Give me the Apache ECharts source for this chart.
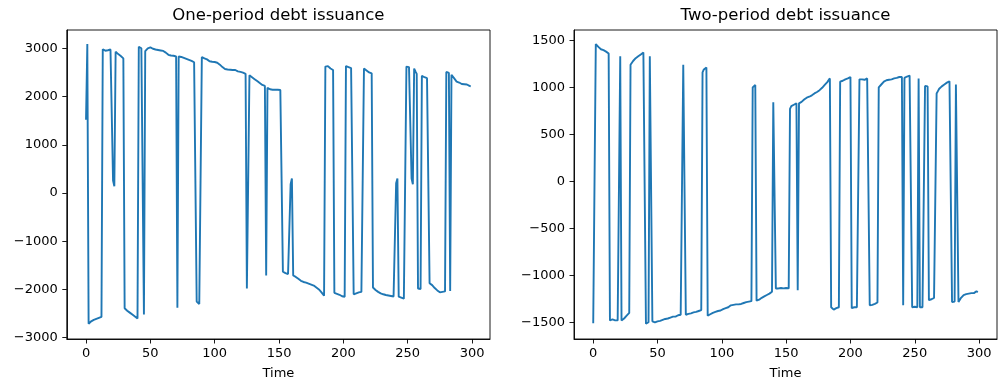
<!DOCTYPE html>
<html><head><meta charset="utf-8">
<script src="https://cdn.jsdelivr.net/npm/echarts@6/dist/echarts.min.js"></script>
<style>html,body{margin:0;padding:0;background:#fff}#c{width:1006px;height:391px}</style>
</head><body><div id="c"></div>
<script>
const titles = ['One-period debt issuance', 'Two-period debt issuance'];
const xLabel = 'Time';
const xTicks = [0, 50, 100, 150, 200, 250, 300];
const yTicksLeft = [-3000, -2000, -1000, 0, 1000, 2000, 3000];
const yTicksRight = [-1500, -1000, -500, 0, 500, 1000, 1500];

const oneperiod = [
1520, 3090, -2710,
-2690,-2660,-2640,-2630,-2620,-2610,-2600,-2590,-2580,-2570,
2980,2960,2950,2950,2960,2980,2975,2980,
260,140,
2930,2900,2880,2860,2840,2810,2790,
-2390,-2420,-2440,-2460,-2480,-2500,-2520,-2540,-2560,-2580,-2600,
3030,3010,3000,2970,
-2520,
2940,2980,3000,3010,3020,3010,
2990,2980,2975,2970,2965,2960,2955,2950,2945,2930,2910,2890,2865,2855,2850,2850,2845,2845,2830,
-2380,
2830,2825,2820,2810,2800,2790,2780,2770,2760,2750,2740,2720,2710,2700,
-2250,-2290,-2300,-2310,
2820,2800,2790,2780,2770,2750,2730,2720,
2720,2720,2715,2710,2700,2690,
2660,2640,2610,2590,2570,2560,
2560,2555,2555,2550,2550,2555,2550,2540,
2520,2515,2510,2500,2495,2480,
2470,
-1980,-2000,
2440,2420,2400,2380,2360,2340,2320,2300,2280,2260,2240,2230,2220,
-1710,
2180,2160,2150,2145,2140,2140,2140,2135,2140,2140,2135,2130,
-1630,-1650,-1660,-1670,-1680,-1690,
180,300,
-1710,-1730,-1740,-1760,-1780,-1800,-1820,-1840,-1845,-1850,-1860,-1870,-1880,-1890,-1900,-1910,-1920,-1940,-1960,-1980,-2000,-2030,-2060,-2100,-2130,
2620,2640,2630,2600,2580,2560,2550,
-2070,-2080,-2090,-2100,-2110,-2120,-2140,-2150,-2150,
2630,2620,2610,2600,2590,2570,
-2100,-2090,-2080,-2070,-2060,-2045,-2050,-2090,
2580,2560,2540,2520,2500,2490,2480,
-1960,-1990,-2010,-2030,-2050,-2070,-2080,-2090,-2100,-2110,-2115,-2120,-2125,-2130,-2135,-2140,-2145,-2150,
200,300,
-2150,-2160,-2170,-2180,-2190,-2185,
2620,2615,2610,2610,
300,180,
2580,2520,2470,
-1980,-1990,-1990,
2430,2410,2400,2390,2380,2375,
-1870,-1880,-1910,-1940,-1970,-2000,-2020,-2040,-2060,-2065,-2050,-2045,-2040,
2510,2505,2490,
-2030,
2450,2420,2380,2340,2310,2300,2290,2270,2260,2255,2255,2250,2250,2240,2220,2210
];

const twoperiod = [
-1510,-1530,
1460,1440,1430,1415,1405,1400,1395,1390,1380,1370,1360,
-1480,-1470,-1470,-1475,-1480,-1490,-1480,-1485,
1330,
-1480,-1470,-1460,-1450,-1430,-1410,-1400,
1240,1260,1280,1295,1310,1320,1330,1340,1350,1360,1370,1380,
-1515,-1520,-1500,
1330,1320,
-1490,-1510,-1500,-1495,-1490,-1480,-1485,-1470,-1475,-1470,-1465,-1460,-1460,-1455,-1450,-1450,-1440,-1445,-1440,-1430,-1425,-1420,-1420,-1410,
1240,1235,
-1420,-1415,-1410,-1410,-1405,-1400,-1395,-1395,-1390,-1385,-1380,-1375,-1370,
1160,1190,1200,1210,
-1430,-1420,-1415,-1410,-1400,-1395,-1390,-1385,-1380,-1385,-1375,-1370,-1360,-1355,-1350,-1345,-1340,-1335,-1320,-1325,-1315,-1320,-1310,-1305,-1310,-1300,-1305,-1300,-1295,-1290,-1285,-1290,-1280,-1278,-1275,
1000,1010,1025,
-1270,-1265,-1260,-1250,-1240,-1235,-1225,-1215,-1210,-1200,-1195,-1185,-1175,
840,850,
-1140,-1135,-1140,-1140,-1135,-1140,-1140,-1140,-1135,-1140,-1140,
770,800,810,815,820,830,
-1160,
830,840,845,860,870,880,890,900,900,905,915,930,935,945,950,960,970,985,995,1010,1025,1040,1055,1075,1095,
-1340,-1350,-1365,-1360,-1350,-1345,-1340,
1060,1070,1070,1075,1085,1090,1095,1100,1110,
-1350,-1345,-1340,-1335,-1340,-1335,
1085,1090,1085,1080,1080,1075,1095,1100,
-1320,-1320,-1315,-1310,-1305,-1300,-1290,
1000,1020,1030,1045,1060,1065,1075,1080,1080,1085,1085,1090,1095,1100,1100,1105,1110,1115,1110,
-1320,
1100,1110,1115,1120,1125,1130,
-1340,-1340,-1335,-1340,-1340,
1095,
-1340,-1335,-1340,-1330,
1015,1015,1010,
-1265,-1260,-1255,-1245,-1240,-1230,
935,960,985,1000,1010,1020,1030,1040,1050,1060,1065,1055,
-1285,-1290,-1280,
1030,1025,
-1285,-1270,-1240,-1220,-1210,-1205,-1200,-1195,-1195,-1190,-1190,-1200,-1190,-1180,-1170,-1180
];

const FONT = 'DejaVu Sans';
const chart = echarts.init(document.getElementById('c'), null, {renderer: 'canvas'});

function xAxisCfg(idx) {
  return {
    gridIndex: idx, type: 'value', min: -14.95, max: 313.95,
    name: xLabel, nameLocation: 'middle', nameGap: 28,
    nameTextStyle: {color: '#000', fontSize: 13, fontFamily: FONT},
    axisLine: {show: true, onZero: false, lineStyle: {color: '#000', width: 0.9}},
    axisTick: {show: true, length: 4.5, customValues: xTicks, lineStyle: {color: '#000', width: 0.9}},
    axisLabel: {show: true, margin: 8, customValues: xTicks, color: '#000', fontSize: 13, fontFamily: FONT},
    splitLine: {show: false}
  };
}
function yAxisCfg(idx, min, max, ticks) {
  return {
    gridIndex: idx, type: 'value', min: min, max: max,
    axisLine: {show: true, onZero: false, lineStyle: {color: '#000', width: 0.9}},
    axisTick: {show: true, length: 4.5, customValues: ticks, lineStyle: {color: '#000', width: 0.9}},
    axisLabel: {show: true, margin: 9, customValues: ticks, color: '#000', fontSize: 13, fontFamily: FONT,
      formatter: v => (v < 0 ? '\u2212' + Math.abs(v) : String(v))},
    splitLine: {show: false}
  };
}
const toPairs = arr => arr.map((v, i) => [i, v]);

const option = {
  animation: false,
  backgroundColor: '#fff',
  title: [
    {text: titles[0], left: 278.4, top: 7, textAlign: 'center', padding: 0,
     textStyle: {fontSize: 16.5, fontWeight: 'normal', color: '#000', fontFamily: FONT}},
    {text: titles[1], left: 785.5, top: 7, textAlign: 'center', padding: 0,
     textStyle: {fontSize: 16.5, fontWeight: 'normal', color: '#000', fontFamily: FONT}}
  ],
  grid: [
    {left: 66.8, top: 30, width: 423.2, height: 309, show: true, borderColor: '#000', borderWidth: 0.9, backgroundColor: 'transparent', containLabel: false},
    {left: 574, top: 30, width: 423, height: 309, show: true, borderColor: '#000', borderWidth: 0.9, backgroundColor: 'transparent', containLabel: false}
  ],
  xAxis: [xAxisCfg(0), xAxisCfg(1)],
  yAxis: [yAxisCfg(0, -3027, 3379, yTicksLeft), yAxisCfg(1, -1678, 1610, yTicksRight)],
  series: [
    {type: 'line', xAxisIndex: 0, yAxisIndex: 0, data: toPairs(oneperiod), showSymbol: false, symbol: 'none',
     lineStyle: {color: '#1f77b4', width: 1.9}, itemStyle: {color: '#1f77b4'}},
    {type: 'line', xAxisIndex: 1, yAxisIndex: 1, data: toPairs(twoperiod), showSymbol: false, symbol: 'none',
     lineStyle: {color: '#1f77b4', width: 1.9}, itemStyle: {color: '#1f77b4'}}
  ]
};
if (oneperiod.length !== 300 || twoperiod.length !== 300) {
  option.graphic = [{type: 'text', left: 300, top: 150, style: {text: 'LEN ' + oneperiod.length + ' ' + twoperiod.length, fontSize: 30, fill: 'red'}}];
}
chart.setOption(option);
</script></body></html>
